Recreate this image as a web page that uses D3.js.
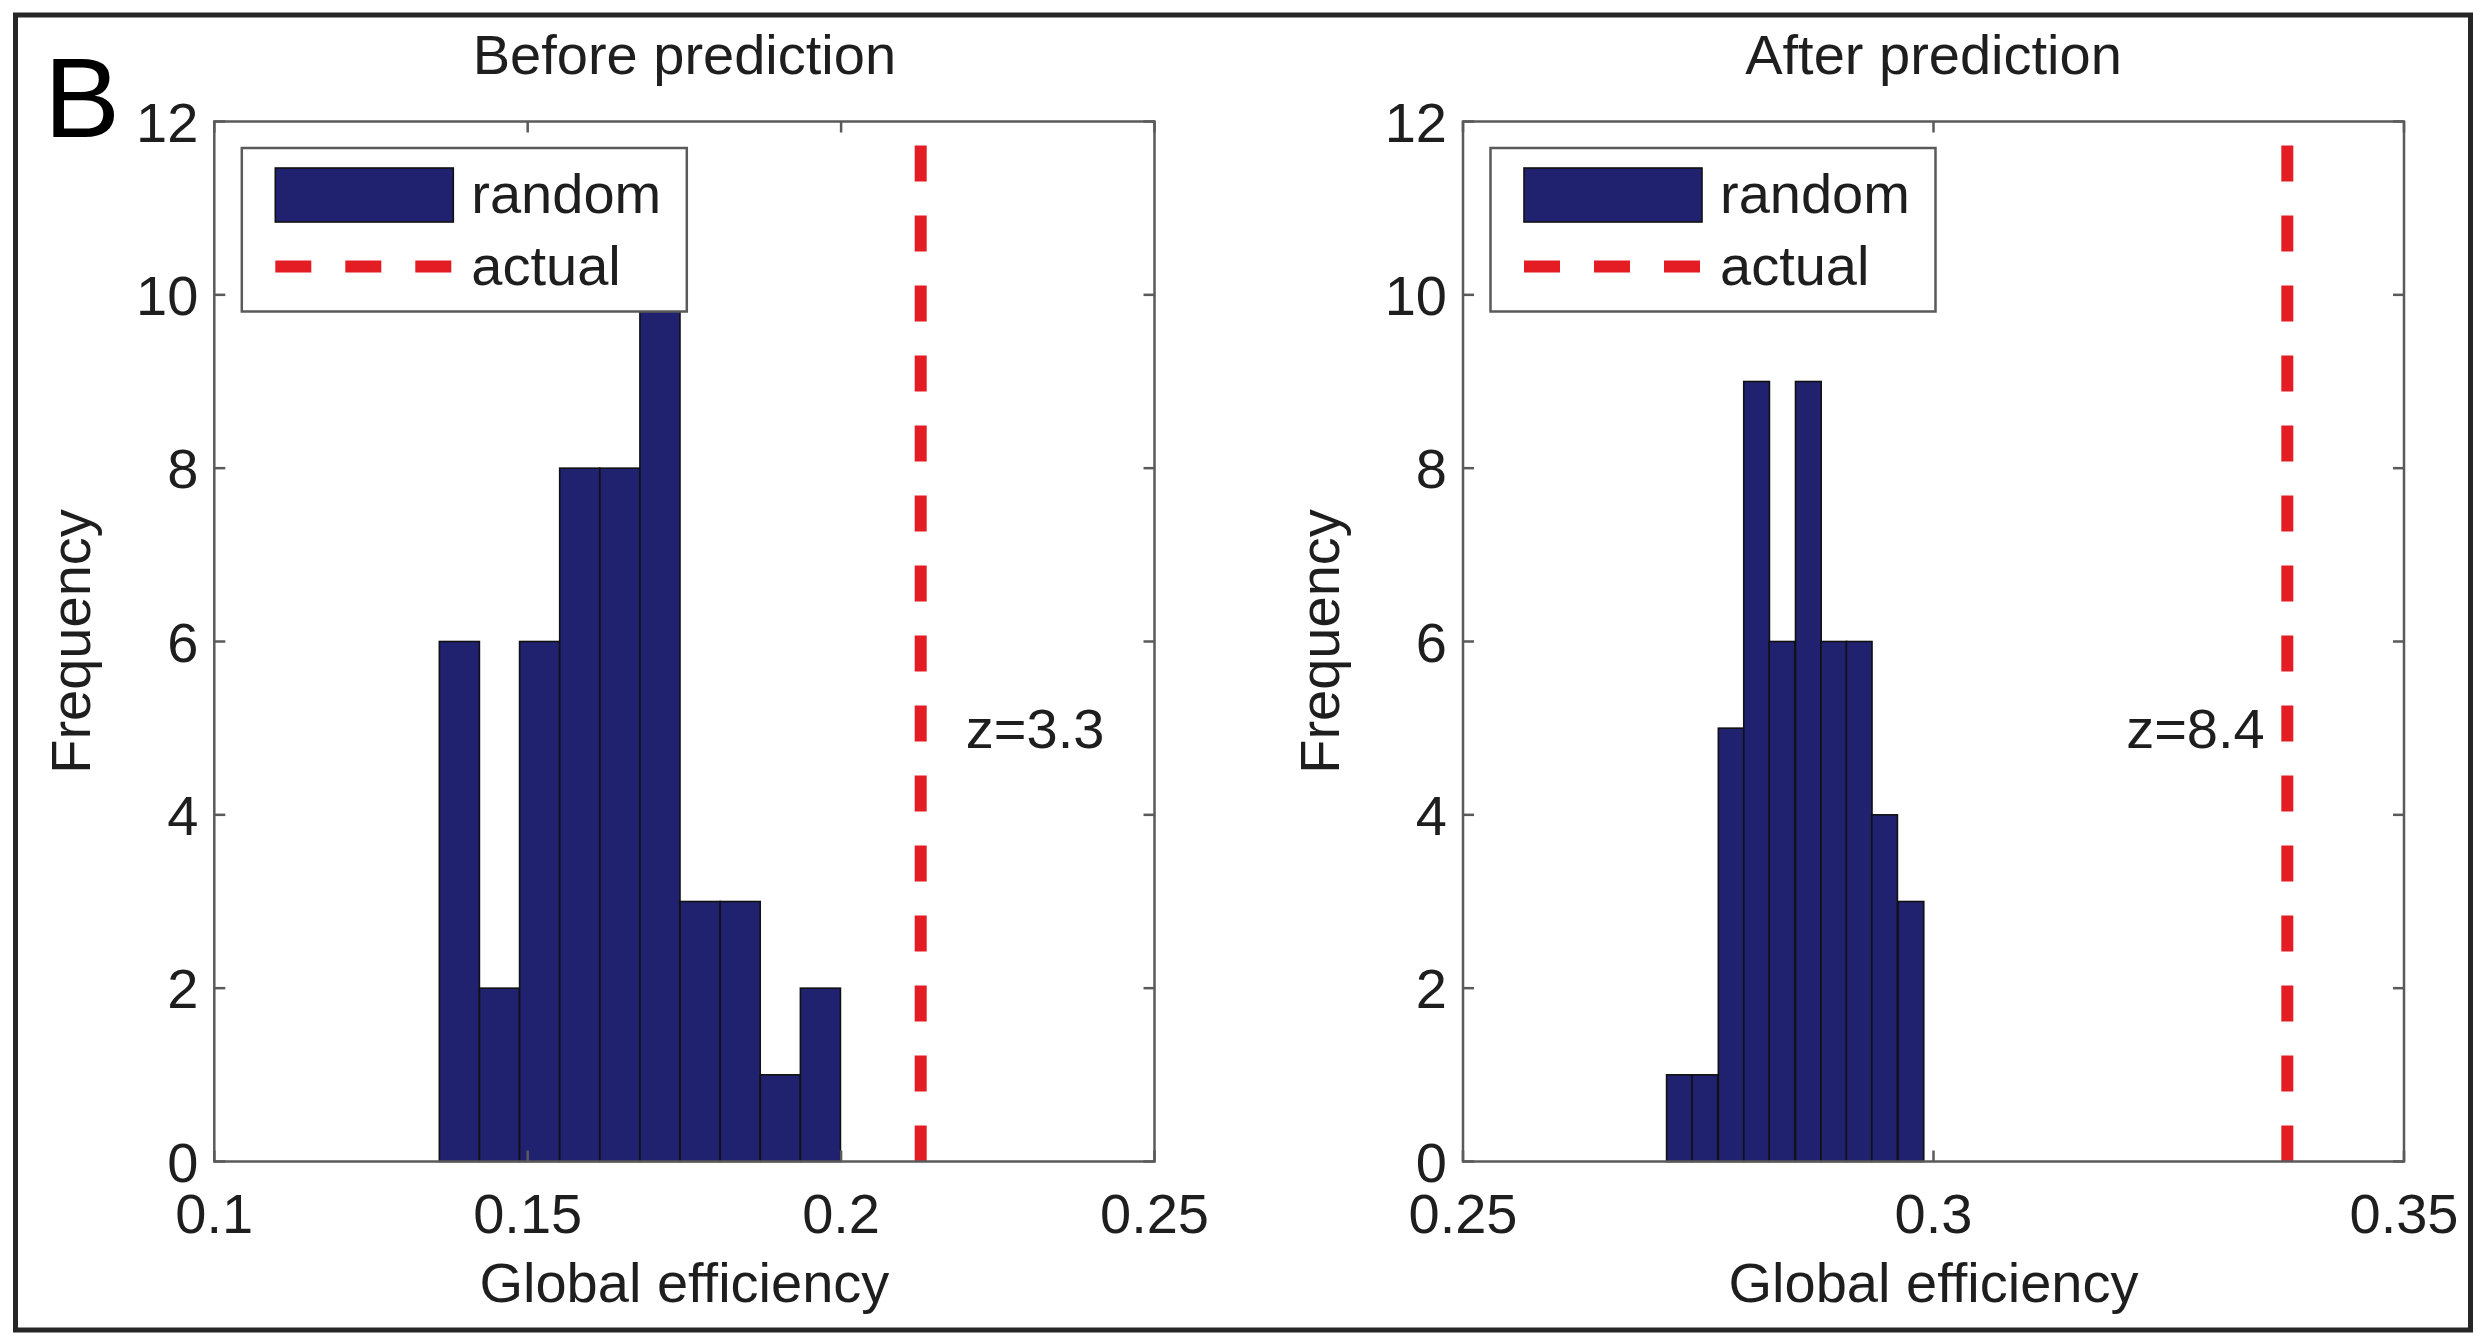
<!doctype html>
<html lang="en">
  <head>
    <meta charset="utf-8">
    <title>Global efficiency: before / after prediction</title>
    <style>
      html, body { margin: 0; padding: 0; background: #fff; }
      svg { display: block; }
      text { font-family: "Liberation Sans", Arial, Helvetica, sans-serif; fill: #1e1e1e; }
    </style>
  </head>
  <body>
    <script src="https://cdn.jsdelivr.net/npm/d3@7/dist/d3.min.js"></script>
    <script>

    // ---- data ----
    const beforeCenters = [0.1391, 0.1455, 0.1519, 0.1583, 0.1647, 0.1711, 0.1775, 0.1839, 0.1903, 0.1967];
    const beforeCounts  = [6, 2, 6, 8, 8, 11, 3, 3, 1, 2];
    const beforeBinWidth = 0.00639;
    const beforeActual = 0.2127;
    const beforeXTicks = [0.1, 0.15, 0.2, 0.25];

    const afterCenters = [0.2730, 0.2757, 0.2785, 0.2812, 0.2839, 0.2867, 0.2894, 0.2921, 0.2948, 0.2976];
    const afterCounts  = [1, 1, 5, 9, 6, 9, 6, 6, 4, 3];
    const afterBinWidth = 0.00273;
    const afterActual = 0.3376;
    const afterXTicks = [0.25, 0.3, 0.35];

    const yTicks = [0, 2, 4, 6, 8, 10, 12];
    const titles = ["Before prediction", "After prediction"];
    const zLabels = ["z=3.3", "z=8.4"];
    const legendLabels = ["random", "actual"];

    const W = 2478, H = 1336;
    const fs = 56;                 // general font size
    const barColor = "#20216f";
    const axisColor = "#5a5a5a";
    const red = "#e41d25";

    const svg = d3.select("body").append("svg")
        .attr("width", W)
        .attr("height", H)
        .attr("viewBox", `0 0 ${W} ${H}`);

    // outer frame of the figure panel
    svg.append("rect")
      .attr("x", 15.5).attr("y", 15)
      .attr("width", 2455).attr("height", 1315)
      .attr("fill", "none")
      .attr("stroke", "#262626")
      .attr("stroke-width", 5);

    svg.append("text")
      .attr("x", 44).attr("y", 137)
      .style("font-size", "114px")
      .style("fill", "#000")
      .text("B");

    const yTop = 121.5, yBottom = 1161.5;

    function drawPanel(cfg) {
      const x = d3.scaleLinear().domain(cfg.xDomain).range([cfg.left, cfg.right]);
      const y = d3.scaleLinear().domain([0, 12]).range([yBottom, yTop]);
      const g = svg.append("g");

      // bars
      g.selectAll("rect.bar")
        .data(cfg.centers.map((c, i) => ({c: c, n: cfg.counts[i]})))
        .join("rect")
        .attr("class", "bar")
        .attr("x", d => x(d.c - cfg.binWidth / 2))
        .attr("width", d => x(d.c + cfg.binWidth / 2) - x(d.c - cfg.binWidth / 2))
        .attr("y", d => y(d.n))
        .attr("height", d => y(0) - y(d.n))
        .attr("fill", barColor)
        .attr("stroke", "#111")
        .attr("stroke-width", 1.6);

      // actual value, dashes start at the bottom
      g.append("line")
        .attr("x1", x(cfg.actual)).attr("x2", x(cfg.actual))
        .attr("y1", y(0)).attr("y2", y(12))
        .attr("stroke", red)
        .attr("stroke-width", 12)
        .attr("stroke-dasharray", "36 34");

      // box
      g.append("rect")
        .attr("x", cfg.left).attr("y", yTop)
        .attr("width", cfg.right - cfg.left).attr("height", yBottom - yTop)
        .attr("fill", "none")
        .attr("stroke", axisColor)
        .attr("stroke-width", 2.5);

      // inward ticks on all four sides
      const tl = 11;
      cfg.xTicks.forEach(t => {
        g.append("line").attr("x1", x(t)).attr("x2", x(t)).attr("y1", yBottom).attr("y2", yBottom - tl)
          .attr("stroke", axisColor).attr("stroke-width", 2.5);
        g.append("line").attr("x1", x(t)).attr("x2", x(t)).attr("y1", yTop).attr("y2", yTop + tl)
          .attr("stroke", axisColor).attr("stroke-width", 2.5);
      });
      yTicks.forEach(t => {
        g.append("line").attr("x1", cfg.left).attr("x2", cfg.left + tl).attr("y1", y(t)).attr("y2", y(t))
          .attr("stroke", axisColor).attr("stroke-width", 2.5);
        g.append("line").attr("x1", cfg.right).attr("x2", cfg.right - tl).attr("y1", y(t)).attr("y2", y(t))
          .attr("stroke", axisColor).attr("stroke-width", 2.5);
      });

      // tick labels
      g.selectAll("text.xt")
        .data(cfg.xTicks)
        .join("text")
        .attr("class", "xt")
        .attr("x", d => x(d))
        .attr("y", 1233)
        .attr("text-anchor", "middle")
        .style("font-size", fs + "px")
        .text(d => String(d));

      g.selectAll("text.yt")
        .data(yTicks)
        .join("text")
        .attr("class", "yt")
        .attr("x", cfg.left - 16)
        .attr("y", d => y(d) + 20)
        .attr("text-anchor", "end")
        .style("font-size", fs + "px")
        .text(d => d);

      // axis labels and title
      const cx = (cfg.left + cfg.right) / 2;
      g.append("text")
        .attr("x", cx).attr("y", 1302)
        .attr("text-anchor", "middle")
        .style("font-size", fs + "px")
        .text("Global efficiency");

      g.append("text")
        .attr("transform", `translate(${cfg.left - 124},${(yTop + yBottom) / 2}) rotate(-90)`)
        .attr("text-anchor", "middle")
        .style("font-size", fs + "px")
        .text("Frequency");

      g.append("text")
        .attr("x", cx).attr("y", 74)
        .attr("text-anchor", "middle")
        .style("font-size", fs + "px")
        .text(cfg.title);

      // z annotation
      g.append("text")
        .attr("x", x(cfg.zX))
        .attr("y", y(5) + 20)
        .attr("text-anchor", cfg.zAnchor)
        .style("font-size", fs + "px")
        .text(cfg.z);

      // legend
      const lg = g.append("g").attr("transform", `translate(${cfg.left},0)`);
      lg.append("rect")
        .attr("x", 27.5).attr("y", 148)
        .attr("width", 445).attr("height", 163.5)
        .attr("fill", "#fff")
        .attr("stroke", axisColor)
        .attr("stroke-width", 2.5);
      lg.append("rect")
        .attr("x", 61).attr("y", 168)
        .attr("width", 178).attr("height", 54)
        .attr("fill", barColor)
        .attr("stroke", "#111")
        .attr("stroke-width", 1.6);
      lg.append("line")
        .attr("x1", 61).attr("x2", 239)
        .attr("y1", 266.5).attr("y2", 266.5)
        .attr("stroke", red)
        .attr("stroke-width", 12)
        .attr("stroke-dasharray", "36 34");
      lg.selectAll("text.lt")
        .data(legendLabels)
        .join("text")
        .attr("class", "lt")
        .attr("x", 257)
        .attr("y", (d, i) => i === 0 ? 213 : 285)
        .style("font-size", fs + "px")
        .text(d => d);
    }

    drawPanel({
      left: 214.3, right: 1154.5,
      xDomain: [0.1, 0.25], xTicks: beforeXTicks,
      centers: beforeCenters, counts: beforeCounts, binWidth: beforeBinWidth,
      actual: beforeActual, title: titles[0],
      z: zLabels[0], zX: 0.2199, zAnchor: "start"
    });

    drawPanel({
      left: 1463, right: 2404,
      xDomain: [0.25, 0.35], xTicks: afterXTicks,
      centers: afterCenters, counts: afterCounts, binWidth: afterBinWidth,
      actual: afterActual, title: titles[1],
      z: zLabels[1], zX: 0.3352, zAnchor: "end"
    });

    </script>
  </body>
</html>
